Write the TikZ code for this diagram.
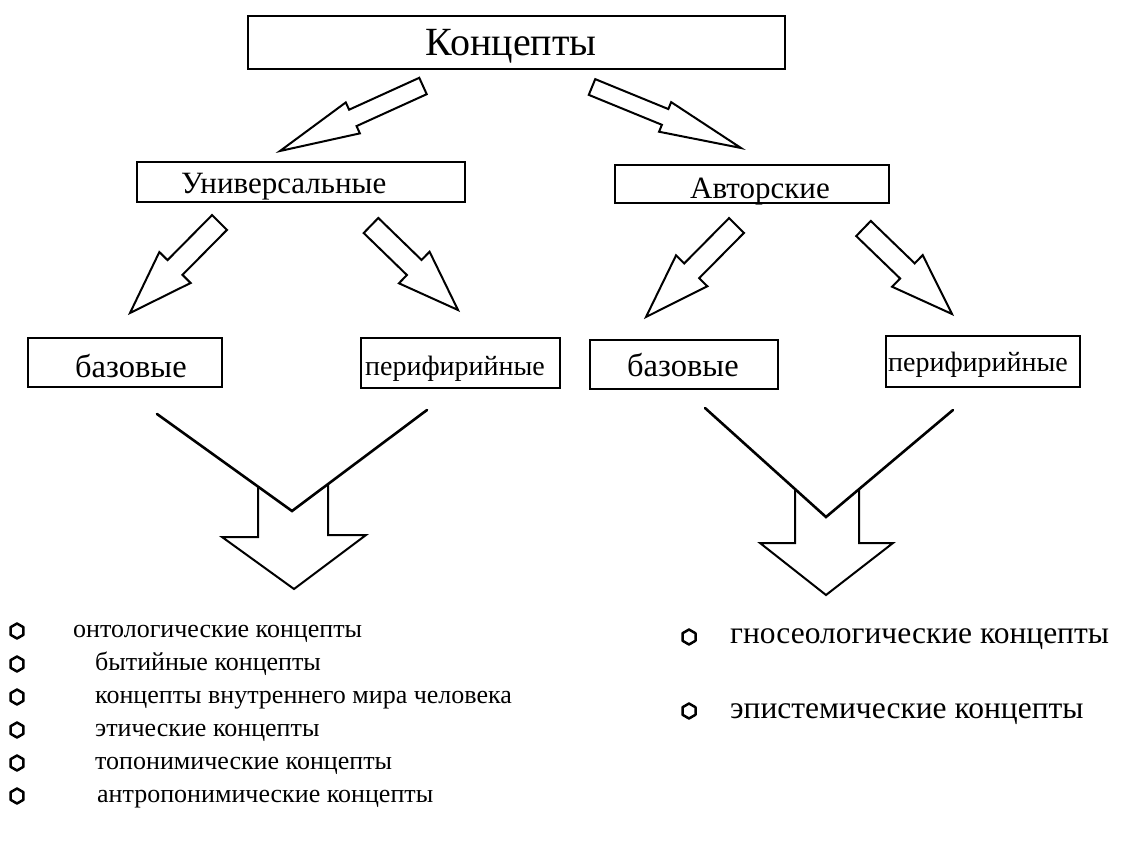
\documentclass[tikz,border=0pt]{standalone}
\usepackage{fontspec}
\setmainfont{Liberation Serif}
\usetikzlibrary{calc}
\newcommand\barrow[6]{% name, tail, tip, shaft half-width, head half-width, head length
  \coordinate (#1h) at ($(#3)!#6pt!(#2)$);
  \draw[blockarrow] ($(#2)!#4pt!90:(#3)$) -- ($(#1h)!#4pt!-90:(#2)$) -- ($(#1h)!#5pt!-90:(#2)$)
     -- (#3) -- ($(#1h)!#5pt!90:(#2)$) -- ($(#1h)!#4pt!90:(#2)$) -- ($(#2)!#4pt!-90:(#3)$) -- cycle;
}
\newcommand\hexbullet[2]{%
  \begin{scope}[shift={(#1)}]
  \draw[bulletline] (90:#2) -- (150:#2) -- (210:#2) -- (270:#2) -- (330:#2) -- (30:#2) -- cycle;
  \end{scope}
}
\begin{document}
\begin{tikzpicture}[x=1pt,y=-1pt,
  box/.style={draw=black, line width=2.6pt, rectangle, inner sep=0pt},
  blockarrow/.style={draw=black, line width=2pt, line join=miter, fill=white},
  vline/.style={draw=black, line width=2.6pt, line cap=round},
  lbl/.style={inner sep=0pt, anchor=base west, text=black},
  bulletline/.style={draw=black, line width=2.5pt, line join=round}
]
\useasboundingbox[fill=white] (0,0) rectangle (1128,843);

% boxes
\node[box, minimum width=537pt, minimum height=53pt] (top) at (516.5,42.5) {};
\node[lbl, anchor=base] (toptxt) at (511,56) {\fontsize{40}{46}\selectfont Концепты};

\node[box, minimum width=328pt, minimum height=40pt] (uni) at (301,182) {};
\node[lbl] (unitxt) at (181,193) {\fontsize{31}{36}\selectfont Универсальные};

\node[box, minimum width=274pt, minimum height=38pt] (aut) at (752,184) {};
\node[lbl] (auttxt) at (690,198) {\fontsize{31}{36}\selectfont Авторские};

\node[box, minimum width=194pt, minimum height=49pt] (ub) at (125,362.5) {};
\node[lbl] (ubtxt) at (75,377) {\fontsize{32.5}{38}\selectfont базовые};

\node[box, minimum width=199pt, minimum height=50pt] (up) at (460.5,363) {};
\node[lbl] (uptxt) at (365,375) {\fontsize{28}{32}\selectfont перифирийные};

\node[box, minimum width=188pt, minimum height=49pt] (ab) at (684,364.5) {};
\node[lbl] (abtxt) at (627,376) {\fontsize{32.5}{38}\selectfont базовые};

\node[box, minimum width=194pt, minimum height=51pt] (ap) at (983,361.5) {};
\node[lbl] (aptxt) at (888,371) {\fontsize{28}{32}\selectfont перифирийные};

% block arrows
\coordinate (a1t) at (423,86);   \coordinate (a1p) at (280,151);
\coordinate (a2t) at (592,87);   \coordinate (a2p) at (741,148);
\coordinate (a3t) at (219.5,222.5); \coordinate (a3p) at (130,313);
\coordinate (a4t) at (371,225.5);   \coordinate (a4p) at (458,310);
\coordinate (a5t) at (736.5,225.5); \coordinate (a5p) at (646,317);
\coordinate (a6t) at (863.5,228.5); \coordinate (a6p) at (952,314);
\barrow{a1}{a1t}{a1p}{9}{17}{80}
\barrow{a2}{a2t}{a2p}{8.5}{16}{82}
\barrow{a3}{a3t}{a3p}{10.5}{22}{64}
\barrow{a4}{a4t}{a4p}{10.5}{22}{61}
\barrow{a5}{a5t}{a5p}{10.5}{22}{65}
\barrow{a6}{a6t}{a6p}{10.5}{22}{62}

% merging arrows
\coordinate (lv1) at (157,414); \coordinate (lv) at (292,511); \coordinate (lv2) at (427,410);
\coordinate (lt) at (294,589);
\draw[blockarrow] (258,486.6) -- (258,537) -- (222,537) -- (lt) -- (366,535) -- (328,535) -- (328,484.1);
\draw[vline] (lv1) -- (lv) -- (lv2);

\coordinate (rv1) at (705,408); \coordinate (rv) at (826,517); \coordinate (rv2) at (953,410);
\coordinate (rt) at (826,595);
\draw[blockarrow] (795,489) -- (795,543) -- (760,543) -- (rt) -- (893,543) -- (859,543) -- (859,489.2);
\draw[vline] (rv1) -- (rv) -- (rv2);

% left list
\foreach \t/\xx [count=\i from 0] in {онтологические концепты/73, бытийные концепты/95, концепты внутреннего мира человека/95, этические концепты/95, топонимические концепты/95, антропонимические концепты/97}{
  \coordinate (lb\i) at (17,631+33*\i);
  \hexbullet{lb\i}{7.5}
  \node[lbl] (li\i) at (\xx,637+33*\i) {\fontsize{26}{30}\selectfont \t};
}
% right list
\coordinate (rb0) at (689,637);
\hexbullet{rb0}{7.5}
\node[lbl] (ri0) at (730,643) {\fontsize{31.5}{36}\selectfont гносеологические концепты};
\coordinate (rb1) at (689,711);
\hexbullet{rb1}{7.5}
\node[lbl] (ri1) at (730,718) {\fontsize{31.5}{36}\selectfont эпистемические концепты};
\end{tikzpicture}
\end{document}
